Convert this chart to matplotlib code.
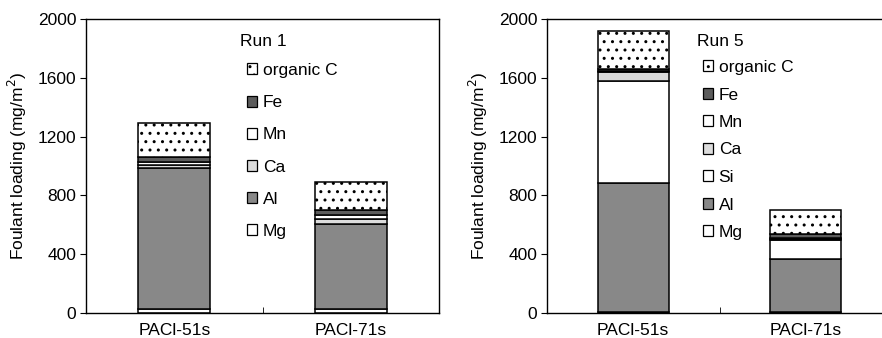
import numpy as np
import matplotlib
matplotlib.use('Agg')
import matplotlib.pyplot as plt
from matplotlib.patches import Patch

plt.rcParams['font.family'] = ['Liberation Sans', 'DejaVu Sans']
plt.rcParams['font.size'] = 12.5
plt.rcParams['hatch.linewidth'] = 1.0

categories = ['PACl-51s', 'PACl-71s']

# Run 1 (mg/m2), stacked bottom to top
run1_names = ['Mg', 'Al', 'Ca', 'Mn', 'Fe', 'organic C']
run1_mg = [25, 30]
run1_al = [960, 575]
run1_ca = [25, 35]
run1_mn = [20, 30]
run1_fe = [28, 30]
run1_orgc = [232, 190]

# Run 5 (mg/m2), stacked bottom to top
run5_names = ['Mg', 'Al', 'Si', 'Ca', 'Mn', 'Fe', 'organic C']
run5_mg = [10, 8]
run5_al = [875, 362]
run5_si = [695, 125]
run5_ca = [60, 10]
run5_mn = [5, 7]
run5_fe = [15, 23]
run5_orgc = [255, 165]

yticks = [0, 400, 800, 1200, 1600, 2000]

# fill / hatch for each component
style = {
    'Mg': ('white', None),
    'Al': ('#888888', None),
    'Si': ('white', None),
    'Ca': ('#dcdcdc', None),
    'Mn': ('white', None),
    'Fe': ('#5c5c5c', None),
    'organic C': ('white', '..'),
}


def panel(ax, names, series, title, title_xy, leg_xy, spacing):
    x = np.arange(len(categories))
    bottom = np.zeros(len(categories))
    handles = []
    for name, vals in zip(names, series):
        fc, hatch = style[name]
        ax.bar(x, vals, 0.41, bottom=bottom, color=fc, edgecolor='black',
               linewidth=1.1, hatch=hatch)
        bottom += np.array(vals)
        handles.append(Patch(facecolor=fc, edgecolor='black', linewidth=0.9,
                             hatch=hatch, label=name))
    ax.set_xlim(-0.5, 1.5)
    ax.set_ylim(0, 2000)
    ax.set_yticks(yticks)
    ax.set_xticks(x)
    ax.set_xticklabels(categories)
    ax.set_xticks([0.5], minor=True)
    ax.tick_params(axis='x', which='major', length=0, pad=7.5)
    ax.tick_params(axis='x', which='minor', direction='in', length=4)
    ax.tick_params(axis='y', direction='out', length=4, pad=3)
    ax.set_ylabel('Foulant loading (mg/m$^2$)', labelpad=6)
    for s in ax.spines.values():
        s.set_linewidth(1.0)
    fig.text(title_xy[0] / 882, 1 - title_xy[1] / 338, title,
             ha='left', va='center')
    ax.legend(handles[::-1], [h.get_label() for h in handles[::-1]],
              loc='upper left', bbox_to_anchor=(leg_xy[0] / 882, 1 - leg_xy[1] / 338),
              bbox_transform=fig.transFigure, frameon=False, borderpad=0,
              borderaxespad=0, handlelength=0.6, handleheight=0.6,
              handletextpad=0.3, labelspacing=spacing)


fig = plt.figure(figsize=(8.82, 3.38), dpi=100)
ax1 = fig.add_axes([86 / 882, 25 / 338, 353 / 882, 294 / 338])
ax2 = fig.add_axes([547 / 882, 25 / 338, 345 / 882, 294 / 338])

panel(ax1, run1_names,
      [run1_mg, run1_al, run1_ca, run1_mn, run1_fe, run1_orgc],
      'Run 1', (240, 42), (247, 63), 0.99)
panel(ax2, run5_names,
      [run5_mg, run5_al, run5_si, run5_ca, run5_mn, run5_fe, run5_orgc],
      'Run 5', (697, 42), (703, 60), 0.72)

plt.savefig('out.png', dpi=100)
